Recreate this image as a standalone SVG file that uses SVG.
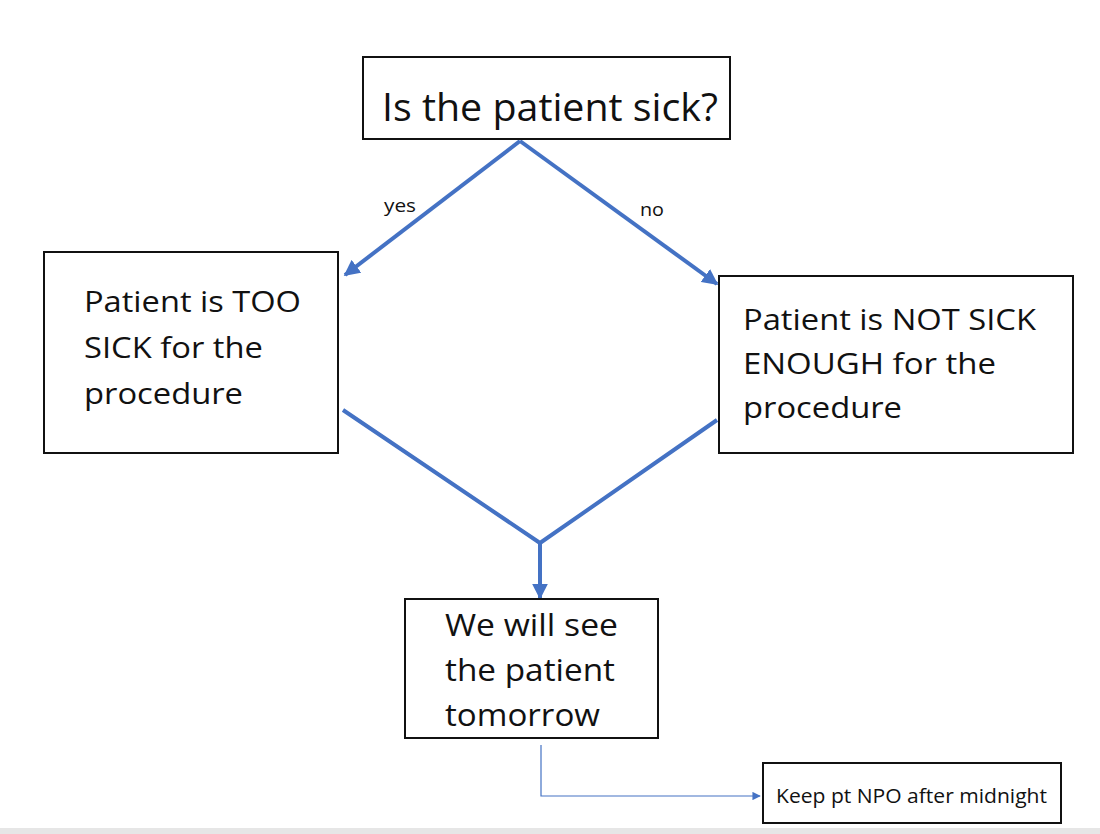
<svg xmlns="http://www.w3.org/2000/svg" width="1100" height="834" viewBox="0 0 1100 834">
<style>
.box{fill:#fff;stroke:#111;stroke-width:2}
.t{font-family:"Open Sans",Lato,sans-serif;fill:#111}
.c{stroke:#4472C4;stroke-width:4;fill:none}
.thin{stroke:#4472C4;stroke-width:1.2;fill:none}
</style>
<defs>
<marker id="ah" viewBox="0 0 10 10" refX="9" refY="5" markerWidth="4" markerHeight="4" orient="auto" markerUnits="strokeWidth"><path d="M0,0L10,5L0,10z" fill="#4472C4"/></marker>
<marker id="ahs" viewBox="0 0 10 10" refX="9" refY="5" markerWidth="7" markerHeight="7" orient="auto" markerUnits="strokeWidth"><path d="M0,0L10,5L0,10z" fill="#4472C4"/></marker>
</defs>
<rect width="1100" height="834" fill="#fff"/>
<rect x="0" y="828" width="1100" height="6" fill="#e6e6e6"/>
<g id="connectors">
<path class="c" d="M520,141L345,275" marker-end="url(#ah)"/>
<path class="c" d="M520,141L717,284" marker-end="url(#ah)"/>
<path class="c" d="M343,410L540,543L717,420"/>
<path class="c" d="M540,543L540,598" marker-end="url(#ah)"/>
<path class="thin" d="M541,745L541,796L760,796" marker-end="url(#ahs)"/>
<text class="t" x="384" y="212" font-size="18" textLength="32" lengthAdjust="spacingAndGlyphs">yes</text>
<text class="t" x="640" y="216" font-size="18" textLength="24" lengthAdjust="spacingAndGlyphs">no</text>
</g>
<g id="n1">
<rect class="box" x="363" y="57" width="367" height="82"/>
<text class="t" x="382" y="121" font-size="38" textLength="336" lengthAdjust="spacingAndGlyphs">Is the patient sick?</text>
</g>
<g id="n2">
<rect class="box" x="44" y="252" width="294" height="201"/>
<text class="t" x="84" y="312" font-size="30" textLength="217" lengthAdjust="spacingAndGlyphs">Patient is TOO</text>
<text class="t" x="84" y="358" font-size="30" textLength="179" lengthAdjust="spacingAndGlyphs">SICK for the</text>
<text class="t" x="84" y="404" font-size="30" textLength="159" lengthAdjust="spacingAndGlyphs">procedure</text>
</g>
<g id="n3">
<rect class="box" x="719" y="276" width="354" height="177"/>
<text class="t" x="743" y="330" font-size="30" textLength="293" lengthAdjust="spacingAndGlyphs">Patient is NOT SICK</text>
<text class="t" x="743" y="374" font-size="30" textLength="253" lengthAdjust="spacingAndGlyphs">ENOUGH for the</text>
<text class="t" x="743" y="418" font-size="30" textLength="159" lengthAdjust="spacingAndGlyphs">procedure</text>
</g>
<g id="n4">
<rect class="box" x="405" y="599" width="253" height="139"/>
<text class="t" x="445" y="636" font-size="31" textLength="173" lengthAdjust="spacingAndGlyphs">We will see</text>
<text class="t" x="445" y="681" font-size="31" textLength="170" lengthAdjust="spacingAndGlyphs">the patient</text>
<text class="t" x="445" y="726" font-size="31" textLength="155" lengthAdjust="spacingAndGlyphs">tomorrow</text>
</g>
<g id="n5">
<rect class="box" x="763" y="763" width="298" height="60"/>
<text class="t" x="776" y="803" font-size="20" textLength="271" lengthAdjust="spacingAndGlyphs">Keep pt NPO after midnight</text>
</g>
</svg>
